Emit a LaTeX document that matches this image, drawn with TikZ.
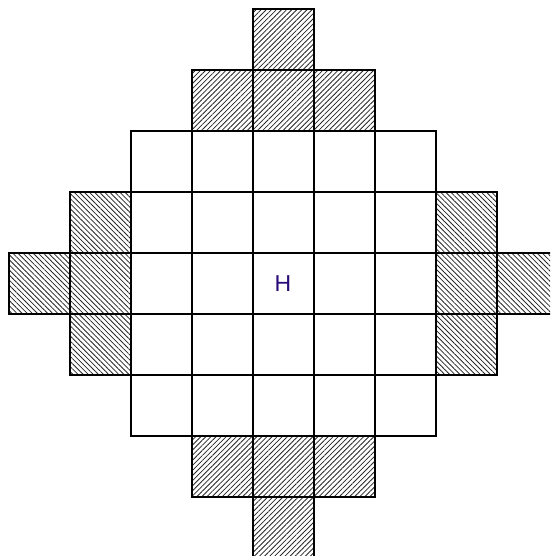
\documentclass[tikz,border=0pt]{standalone}
\usepackage{fontspec}
\setmainfont{Liberation Sans}
\usetikzlibrary{patterns.meta}
\definecolor{hcol}{RGB}{40,10,120}
\tikzset{
  cellborder/.style={draw=black, line width=1.3pt},
  hatchNE/.style={pattern={Lines[angle=45,distance=3.6pt,line width=0.8pt]}, pattern color=black!85},
  hatchNW/.style={pattern={Lines[angle=-45,distance=3.6pt,line width=0.8pt]}, pattern color=black!85},
  label/.style={text=hcol, font=\fontsize{23}{23}\selectfont, inner sep=0pt}
}
\newcommand{\cellat}[3]{% style, col, row
  \path[#1] ({9+61*#2},{9+61*#3}) rectangle ++(61,61);
}
\begin{document}
\begin{tikzpicture}[x=1pt,y=-1pt]
\useasboundingbox (0,0) rectangle (550,556);
\clip (0,0) rectangle (550,556);
\fill[white] (0,0) rectangle (550,556);
% hatched cells (north-east lines): top and bottom
\cellat{hatchNE}{4}{0}
\foreach \c in {3,4,5} {\cellat{hatchNE}{\c}{1}}
\foreach \c in {3,4,5} {\cellat{hatchNE}{\c}{7}}
\cellat{hatchNE}{4}{8}
% hatched cells (north-west lines): left and right
\cellat{hatchNW}{0}{4}
\foreach \r in {3,4,5} {\cellat{hatchNW}{1}{\r}}
\foreach \r in {3,4,5} {\cellat{hatchNW}{7}{\r}}
\cellat{hatchNW}{8}{4}
% borders
\cellat{cellborder}{4}{0}
\foreach \c in {3,4,5} {\cellat{cellborder}{\c}{1}}
\foreach \c in {3,4,5} {\cellat{cellborder}{\c}{7}}
\cellat{cellborder}{4}{8}
\cellat{cellborder}{0}{4}
\foreach \r in {3,4,5} {\cellat{cellborder}{1}{\r}}
\foreach \r in {3,4,5} {\cellat{cellborder}{7}{\r}}
\cellat{cellborder}{8}{4}
\foreach \c in {2,...,6} {\foreach \r in {2,...,6} {\cellat{cellborder}{\c}{\r}}}
\node[label] (h) at (283,284) {H};
\end{tikzpicture}
\end{document}
